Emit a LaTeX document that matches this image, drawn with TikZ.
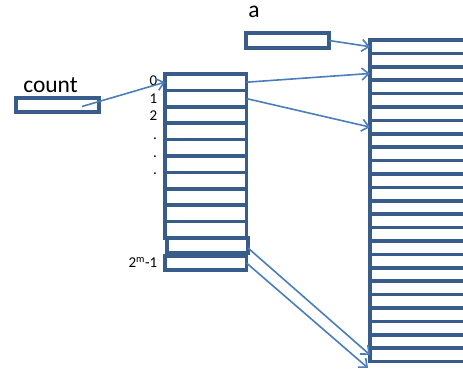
\documentclass[tikz,border=0pt]{standalone}
\usepackage{fontspec}
\setmainfont{Carlito}
\usetikzlibrary{arrows.meta,calc}
\definecolor{boxblue}{HTML}{385D8A}
\definecolor{arrblue}{HTML}{4A7EBB}
\begin{document}
\begin{tikzpicture}[x=1pt,y=-1pt,
  cell/.style={draw=boxblue,line width=3.7pt,fill=white,inner sep=0pt,outer sep=0pt,rectangle},
  ptr/.style={draw=arrblue,line width=1.6pt,-{Straight Barb[length=7pt,width=12pt,line width=1.6pt]}},
  big/.style={font=\fontsize{23.5}{26}\selectfont,inner sep=0pt},
  idx/.style={font=\fontsize{15}{17}\selectfont,inner sep=0pt,anchor=base east}]
\useasboundingbox (0,0) rectangle (463,371);
\begin{scope}
\clip (0,0) rectangle (463,371);
% big array a[]
\foreach \j in {0,...,23}{
  \node[cell,minimum width=110pt,minimum height=13.4pt] (b\j) at (425,{40+13.4*(\j+0.5)}) {};
}
\end{scope}
% count
\node[cell,minimum width=83pt,minimum height=14pt] (count) at (57.5,105) {};
\node[big,anchor=base] (countlbl) at (50.5,93) {count};
% a
\node[cell,minimum width=83pt,minimum height=15pt] (abox) at (287.5,40.5) {};
\node[big,anchor=base] (albl) at (254,18) {a};
% stack
\foreach \i in {0,...,9}{
  \node[cell,minimum width=81.5pt,minimum height=16.4pt] (r\i) at (205.75,{74+16.4*(\i+0.5)}) {};
}
\node[cell,minimum width=81pt,minimum height=15pt] (r10) at (207.5,245.5) {};
\node[cell,minimum width=81.5pt,minimum height=14pt] (r11) at (205.75,263) {};
% index labels
\node[idx] (l0) at (157.5,86) {0};
\node[idx] (l1) at (157.5,103.5) {1};
\node[idx] (l2) at (157.5,121) {2};
\node[idx] (d1) at (157,140) {.};
\node[idx] (d2) at (157,157.5) {.};
\node[idx] (d3) at (157,175) {.};
\node[idx] (lm) at (157.5,268) {2\textsuperscript{m}-1};
% pointers
\coordinate (cstart) at (82,106.5);
\coordinate (lastend) at (368,368);
\draw[ptr] (cstart) -- (r0.west);
\draw[ptr] (abox.east) -- (b0.west);
\draw[ptr] (r0.east) -- (b2.west);
\draw[ptr] (r1.east) -- (b6.west);
\draw[ptr] ($(r10.east)+(0,2.5)$) -- (b23.west);
\draw[ptr] (r11.east) -- (lastend);
\end{tikzpicture}
\end{document}
